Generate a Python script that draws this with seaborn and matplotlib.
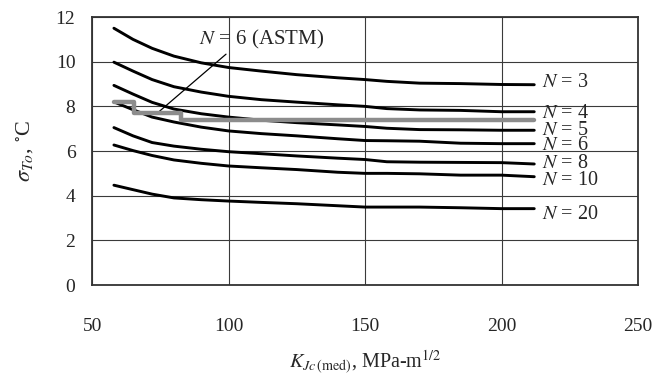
import numpy as np
import pandas as pd
from matplotlib import pyplot as plt
import seaborn as sns

# K_Jc(med) values, MPa-m^1/2
kjc = [58, 65, 72, 80, 90, 100, 112, 125, 140, 150, 158, 170, 185, 200, 212]

# sigma_To, deg C, for each number of specimens N
sig = dict()
sig[3] = [11.5, 11.0, 10.6, 10.25, 9.95, 9.74, 9.58, 9.42, 9.28, 9.20, 9.12, 9.04, 9.02, 8.98, 8.97]
sig[4] = [9.98, 9.58, 9.2, 8.88, 8.64, 8.45, 8.30, 8.19, 8.07, 8.0, 7.9, 7.84, 7.82, 7.76, 7.76]
sig[5] = [8.94, 8.55, 8.18, 7.88, 7.67, 7.52, 7.38, 7.27, 7.17, 7.10, 7.02, 6.96, 6.95, 6.93, 6.93]
sig[6] = [8.2, 7.85, 7.52, 7.3, 7.07, 6.90, 6.78, 6.68, 6.55, 6.47, 6.46, 6.44, 6.35, 6.33, 6.33]
sig[8] = [7.05, 6.68, 6.38, 6.22, 6.08, 5.97, 5.88, 5.78, 5.68, 5.62, 5.52, 5.50, 5.49, 5.48, 5.42]
sig[10] = [6.27, 6.02, 5.8, 5.6, 5.45, 5.33, 5.25, 5.17, 5.05, 5.0, 5.0, 4.98, 4.92, 4.92, 4.85]
sig[20] = [4.47, 4.27, 4.07, 3.9, 3.82, 3.76, 3.70, 3.64, 3.55, 3.49, 3.49, 3.49, 3.46, 3.42, 3.42]

# ASTM step curve for N = 6
astm_k = [58, 65.5, 82.5, 212]
astm_sig = [8.2, 7.7, 7.4, 7.4]

# where the N = ... labels sit
label_y = {3: 9.06, 4: 7.67, 5: 6.92, 6: 6.27, 8: 5.45, 10: 4.66, 20: 3.16}


def plot(df, outf):
    sns.set_style("white")
    plt.rcParams['font.family'] = ['Liberation Serif', 'DejaVu Serif']
    plt.rcParams['mathtext.fontset'] = 'stix'

    fig = plt.figure(figsize=(6.53, 3.79), dpi=100)
    ax = fig.add_axes([0.141, 0.248, 0.836, 0.707])

    for n in sig:
        sns.lineplot(data=df[df["N"] == n], x="K", y="sigma", color="black",
                     lw=2.1, ax=ax, legend=False, zorder=3)
        ax.text(215, label_y[n], "$N$ = %d" % n, fontsize=14.5, va="center",
                ha="left", clip_on=False)

    ax.plot(astm_k, astm_sig, drawstyle="steps-post", color="#8c8c8c", lw=3.2, zorder=4)

    ax.annotate("$N$ = 6 (ASTM)", xy=(74.5, 7.76), xytext=(112, 11.0),
                fontsize=15, ha="center", va="center",
                arrowprops=dict(arrowstyle="-", color="black", lw=0.9,
                                relpos=(0.27, 0.1), shrinkA=0, shrinkB=0))

    ax.set_xlim(50, 250)
    ax.set_ylim(0, 12)
    ax.set_xticks([50, 100, 150, 200, 250])
    ax.set_yticks([0, 2, 4, 6, 8, 10, 12])
    ax.grid(True, color="#3a3a3a", lw=0.8)
    ax.tick_params(length=0, labelsize=14)
    ax.tick_params(axis="x", pad=24)
    ax.tick_params(axis="y", pad=12)
    for s in ax.spines.values():
        s.set_color("#333333")
        s.set_linewidth(1.3)

    ax.set_xlabel(r"$K_{Jc\,\mathrm{(med)}}$, MPa-m$^{1/2}$", fontsize=14.5, labelpad=10)
    ax.set_ylabel(r"$\sigma_{To}$, $^{\circ}$C", fontsize=16, labelpad=14)

    plt.savefig(outf, dpi=100)


if __name__ == "__main__":
    ks = []
    ns = []
    vals = []
    for n in sig:
        ks.extend(kjc)
        ns.extend([n] * len(kjc))
        vals.extend(sig[n])
    df = pd.DataFrame({"K": np.array(ks), "N": np.array(ns), "sigma": np.array(vals)})
    plot(df, "out.png")
